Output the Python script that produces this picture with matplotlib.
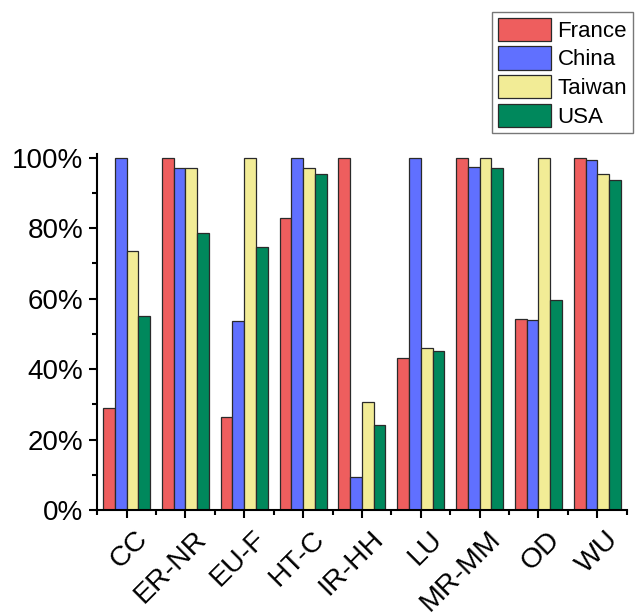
import numpy as np
import matplotlib.pyplot as plt
from matplotlib.transforms import ScaledTranslation
from matplotlib.ticker import PercentFormatter, MultipleLocator, FixedLocator

plt.rcParams['font.family'] = ['Liberation Sans', 'DejaVu Sans']

# categories and coverage per country (percent)
categories = ['CC', 'ER-NR', 'EU-F', 'HT-C', 'IR-HH', 'LU', 'MR-MM', 'OD', 'WU']
france = [28.9, 100, 26.3, 82.9, 100, 43.2, 100, 54.2, 100]
china = [100, 96.9, 53.7, 100, 9.3, 100, 97.3, 53.9, 99.4]
taiwan = [73.4, 97.1, 100, 96.9, 30.7, 46.0, 99.8, 100, 95.4]
usa = [55.0, 78.6, 74.5, 95.4, 24.1, 45.1, 97.1, 59.7, 93.6]

series = [('France', france, '#ee5e5e'),
          ('China', china, '#6070ff'),
          ('Taiwan', taiwan, '#f2ec96'),
          ('USA', usa, '#00885c')]

fig = plt.figure(figsize=(6.35, 6.16), dpi=100)
ax = fig.add_axes([0.153, 0.172, 0.834, 0.578])

x = np.arange(len(categories))
w = 0.2
handles = []
for k, (name, vals, col) in enumerate(series):
    b = ax.bar(x + (k - 1.5) * w, vals, w, color=col, edgecolor='#2a2a2a',
               linewidth=0.9, label=name)
    handles.append(b)

ax.set_xlim(-0.5, len(categories) - 0.5)
ax.set_ylim(0, 101)
ax.yaxis.set_major_formatter(PercentFormatter(decimals=0))
ax.yaxis.set_major_locator(MultipleLocator(20))
ax.yaxis.set_minor_locator(MultipleLocator(10))
ax.set_xticks(x)
ax.set_xticklabels([])
ax.xaxis.set_minor_locator(FixedLocator(np.arange(-0.5, len(categories), 1.0)))
for lab in ax.get_yticklabels():
    lab.set_fontsize(20)

# rotated category names, ending just right of each tick
off = ax.get_xaxis_transform() + ScaledTranslation(0.08, -0.16, fig.dpi_scale_trans)
for xi, name in zip(x, categories):
    ax.text(xi, 0, name, transform=off, rotation=45, ha='right', va='top',
            rotation_mode='anchor', fontsize=20.5, clip_on=False)

for side in ['top', 'right']:
    ax.spines[side].set_visible(False)
for side in ['left', 'bottom']:
    ax.spines[side].set_linewidth(1.5)
ax.tick_params(which='major', direction='out', length=6, width=1.5, pad=4)
ax.tick_params(which='minor', direction='out', length=3.5, width=1.5)

fig.legend(handles=handles, loc='upper left',
           bbox_to_anchor=(492 / 635, 1 - 12 / 616), fontsize=16,
           frameon=True, fancybox=False, edgecolor='#555555',
           handlelength=2.4, handleheight=1.25, labelspacing=0.2,
           handletextpad=0.3, borderpad=0.25, borderaxespad=0)

fig.patch.set_facecolor('white')
fig.savefig('out.png', dpi=100)
